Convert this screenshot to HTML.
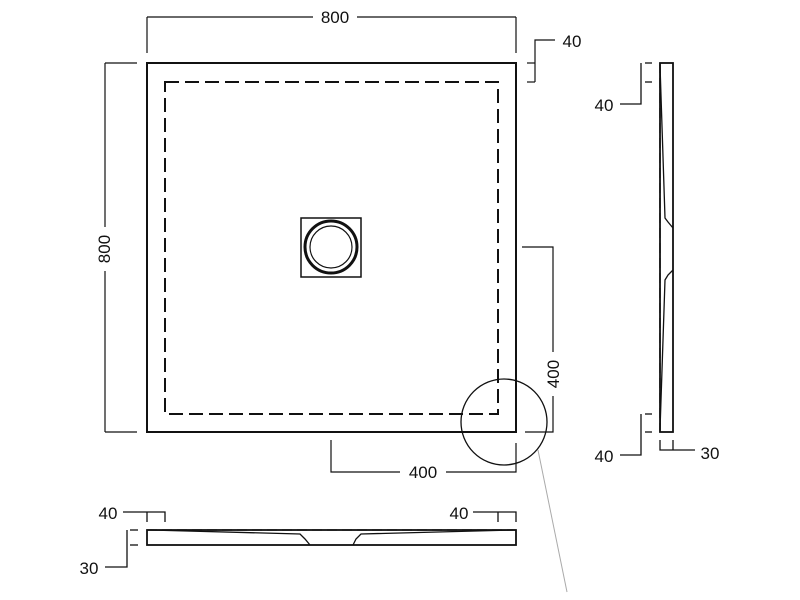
<!DOCTYPE html>
<html><head><meta charset="utf-8"><style>
html,body{margin:0;padding:0;background:#fff;}
svg{display:block;}
text{font-family:"Liberation Sans",Arial,sans-serif;font-size:17px;fill:#111;}
</style></head><body>
<svg width="800" height="600" viewBox="0 0 800 600" xmlns="http://www.w3.org/2000/svg">
<g fill="none" stroke="#111" stroke-width="1.2">
<line x1="147" y1="17" x2="313" y2="17"/>
<line x1="357" y1="17" x2="516" y2="17"/>
<line x1="147" y1="17" x2="147" y2="53"/>
<line x1="516" y1="17" x2="516" y2="53"/>
<line x1="105" y1="63" x2="105" y2="227"/>
<line x1="105" y1="271" x2="105" y2="432"/>
<line x1="105" y1="63" x2="137" y2="63"/>
<line x1="105" y1="432" x2="137" y2="432"/>
<line x1="527" y1="63" x2="535" y2="63"/>
<line x1="527" y1="82" x2="535" y2="82"/>
<polyline points="535,82 535,40 555,40"/>
<polyline points="522,247 553,247 553,352"/>
<polyline points="553,396 553,432 525,432"/>
<polyline points="331,440 331,472 400,472"/>
<polyline points="446,472 516,472 516,443"/>
</g>
<text x="335" y="23" text-anchor="middle">800</text>
<text x="572" y="47" text-anchor="middle">40</text>
<text x="423" y="478" text-anchor="middle">400</text>
<text transform="translate(110,249) rotate(-90)" text-anchor="middle">800</text>
<text transform="translate(559,374) rotate(-90)" text-anchor="middle">400</text>
<rect x="147" y="63" width="369" height="369" fill="none" stroke="#111" stroke-width="2"/>
<rect x="165" y="82" width="333" height="332" fill="none" stroke="#111" stroke-width="2" stroke-dasharray="14,6"/>
<rect x="301" y="218" width="60" height="59" fill="none" stroke="#111" stroke-width="1.5"/>
<circle cx="331" cy="247" r="26" fill="none" stroke="#111" stroke-width="3"/>
<circle cx="331" cy="247" r="21" fill="none" stroke="#111" stroke-width="1.2"/>
<circle cx="504" cy="422" r="43" fill="none" stroke="#111" stroke-width="1.3"/>
<line x1="538" y1="450" x2="567" y2="592" stroke="#aaa" stroke-width="1"/>
<g fill="none" stroke="#111" stroke-width="1.3">
<rect x="660" y="63" width="13" height="369" stroke-width="1.8"/>
<line x1="660" y1="63" x2="660" y2="432" stroke-dasharray="10,5"/>
<polyline points="660,65 665,218 668,222 673,228"/>
<polyline points="673,270 668,275 665,280 660,430"/>
<line x1="645" y1="63" x2="652" y2="63"/>
<line x1="645" y1="82" x2="652" y2="82"/>
<polyline points="641,63 641,104 620,104"/>
<line x1="645" y1="414" x2="652" y2="414"/>
<line x1="645" y1="432" x2="652" y2="432"/>
<polyline points="641,414 641,455 620,455"/>
<polyline points="660,440 660,450 695,450"/>
<line x1="673" y1="440" x2="673" y2="450"/>
</g>
<text x="604" y="111" text-anchor="middle">40</text>
<text x="604" y="462" text-anchor="middle">40</text>
<text x="710" y="459" text-anchor="middle">30</text>
<g fill="none" stroke="#111" stroke-width="1.3">
<rect x="147" y="530" width="369" height="15" stroke-width="1.8"/>
<line x1="147" y1="530" x2="516" y2="530" stroke-dasharray="10,5"/>
<polyline points="150,530 300,534 305,539 310,545"/>
<polyline points="353,545 356,539 361,534 513,530"/>
<polyline points="123,512 165,512 165,522"/>
<line x1="147" y1="512" x2="147" y2="522"/>
<polyline points="473,512 516,512 516,522"/>
<line x1="498" y1="512" x2="498" y2="522"/>
<line x1="130" y1="530" x2="138" y2="530"/>
<line x1="130" y1="545" x2="138" y2="545"/>
<polyline points="127,530 127,567 105,567"/>
</g>
<text x="108" y="519" text-anchor="middle">40</text>
<text x="459" y="519" text-anchor="middle">40</text>
<text x="89" y="574" text-anchor="middle">30</text>
</svg>
</body></html>
